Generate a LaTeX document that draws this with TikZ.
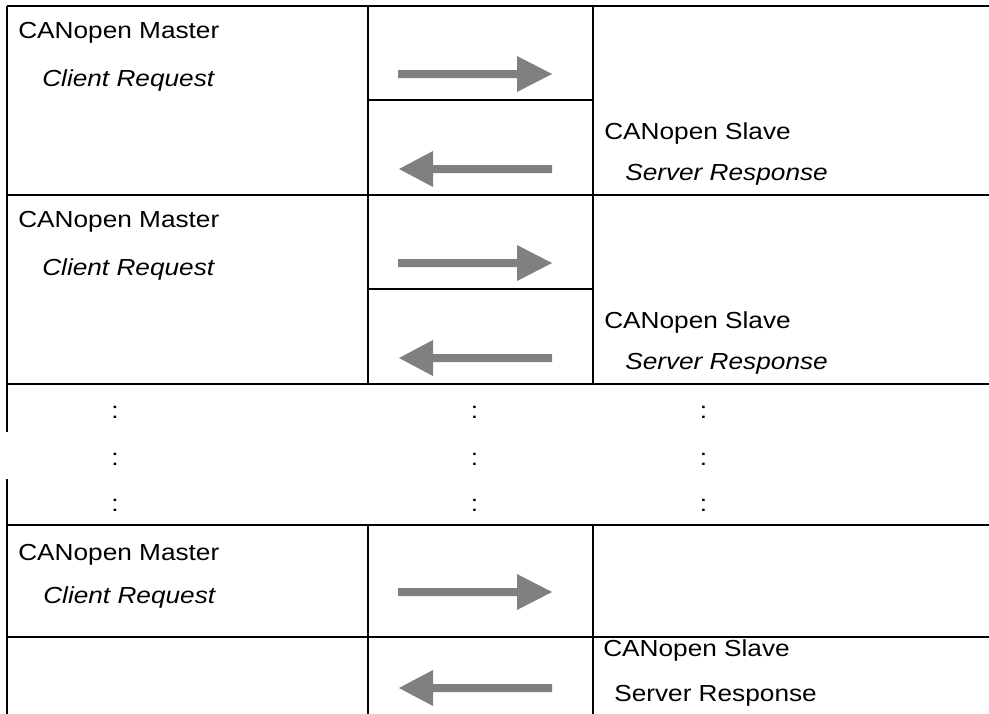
\documentclass[tikz,border=0pt]{standalone}
\usepackage{fontspec}
\setmainfont{Liberation Sans}[FakeStretch=1.13]
\newcommand\tabfs{\fontsize{17.4}{20}\selectfont}
\definecolor{arrowgray}{HTML}{808080}
\begin{document}
\begin{tikzpicture}[x=0.75pt,y=-0.75pt,
  grid/.style={line width=1.7pt,black},
  lbl/.style={anchor=base west,inner sep=0pt,font=\tabfs},
  ilbl/.style={lbl,font=\tabfs\itshape},
  dotlbl/.style={anchor=base,inner sep=0pt,font=\tabfs},
  rarr/.pic={\fill[arrowgray] (0,-4) -- (119,-4) -- (119,-18) -- (154,0) -- (119,18) -- (119,4) -- (0,4) -- cycle;},
  larr/.pic={\fill[arrowgray] (0,0) -- (34,-18) -- (34,-4) -- (153,-4) -- (153,4) -- (34,4) -- (34,18) -- cycle;}]
\useasboundingbox (0,0) rectangle (989,714);
\fill[white] (0,0) rectangle (989,714);
% grid lines
\draw[grid] (7,6) -- (989,6);
\draw[grid] (7,195) -- (989,195);
\draw[grid] (7,384) -- (989,384);
\draw[grid] (7,525) -- (989,525);
\draw[grid] (7,637) -- (989,637);
\draw[grid] (7,6) -- (7,432);
\draw[grid] (7,479) -- (7,714);
\draw[grid] (368,6) -- (368,384);
\draw[grid] (368,525) -- (368,714);
\draw[grid] (593,6) -- (593,384);
\draw[grid] (593,525) -- (593,714);
\draw[grid] (368,100) -- (593,100);
\draw[grid] (368,289) -- (593,289);
% block 1
\node[lbl]  (m1) at (18,38)  {CANopen Master};
\node[ilbl] (c1) at (42,86)  {Client Request};
\node[lbl]  (s1) at (604,139) {CANopen Slave};
\node[ilbl] (r1) at (625,180) {Server Response};
\pic at (398,74) {rarr};
\pic at (399,169) {larr};
% block 2
\node[lbl]  (m2) at (18,227)  {CANopen Master};
\node[ilbl] (c2) at (42,275)  {Client Request};
\node[lbl]  (s2) at (604,328) {CANopen Slave};
\node[ilbl] (r2) at (625,369) {Server Response};
\pic at (398,263) {rarr};
\pic at (399,358) {larr};
% dots
\foreach \yy [count=\i] in {418,465,511}{
  \node[dotlbl] (da\i) at (115,\yy) {:};
  \node[dotlbl] (db\i) at (474.5,\yy) {:};
  \node[dotlbl] (dc\i) at (703.5,\yy) {:};
}
% block 3
\node[lbl]  (m3) at (18,560)  {CANopen Master};
\node[ilbl] (c3) at (43,603)  {Client Request};
\node[lbl]  (s3) at (603,656) {CANopen Slave};
\node[lbl]  (r3) at (614,701) {Server Response};
\pic at (398,592) {rarr};
\pic at (399,688) {larr};
\end{tikzpicture}
\end{document}
